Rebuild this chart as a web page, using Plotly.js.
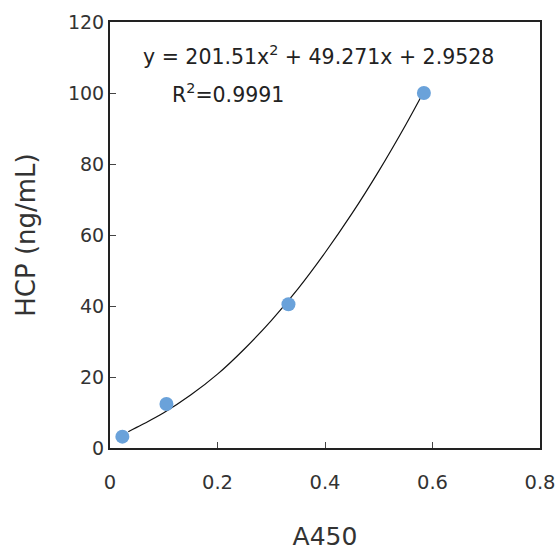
<!DOCTYPE html>
<html><head><meta charset="utf-8">
<script src="https://cdn.plot.ly/plotly-3.0.1.min.js"></script>
<style>html,body{margin:0;padding:0;background:#fff}</style>
</head><body><div id="chart" style="width:558px;height:552px"></div>
<script>
const a450 = [0.023, 0.105, 0.332, 0.584];
const hcp = [3.2, 12.4, 40.5, 100];
const fitX = [0.034, 0.06, 0.10, 0.15, 0.20, 0.25, 0.30, 0.35, 0.40, 0.45, 0.50, 0.55, 0.58];
const fitY = [4.6, 6.6, 9.9, 14.9, 20.8, 27.9, 35.9, 44.9, 55.0, 66.0, 78.0, 91.0, 99.3];
const xTicks = [0, 0.2, 0.4, 0.6, 0.8];
const xTickText = ['0', '0.2', '0.4', '0.6', '0.8'];
const yTicks = [0, 20, 40, 60, 80, 100, 120];
const eqText = 'y = 201.51x<sup>2</sup> + 49.271x + 2.9528';
const r2Text = 'R<sup>2</sup>=0.9991';

const font = 'DejaVu Sans, Verdana, sans-serif';
const traces = [
  {x: fitX, y: fitY, mode: 'lines', line: {color: '#111', width: 1.2, shape: 'spline'}, hoverinfo: 'skip'},
  {x: a450, y: hcp, mode: 'markers', marker: {color: '#6aa2da', size: 14}}
];
const layout = {
  width: 558, height: 552,
  margin: {l: 110, r: 18, t: 22, b: 104},
  showlegend: false,
  paper_bgcolor: '#fff', plot_bgcolor: '#fff',
  font: {family: font, color: '#333', size: 19},
  xaxis: {
    range: [0, 0.8], tickvals: xTicks, ticktext: xTickText,
    showgrid: false, zeroline: false,
    showline: true, linecolor: '#222', linewidth: 2, mirror: true,
    ticks: 'inside', ticklen: 6, tickcolor: '#444', tickwidth: 1,
    ticklabelstandoff: 16,
    tickfont: {size: 19.5, color: '#333', family: font},
    title: {text: 'A450', font: {size: 25, color: '#333', family: font}, standoff: 34}
  },
  yaxis: {
    range: [0, 120], tickvals: yTicks,
    showgrid: false, zeroline: false,
    showline: true, linecolor: '#222', linewidth: 2, mirror: true,
    ticks: 'inside', ticklen: 6, tickcolor: '#444', tickwidth: 1,
    tickfont: {size: 19, color: '#333', family: font},
    title: {text: 'HCP (ng/mL)', font: {size: 26, color: '#333', family: font}, standoff: 25}
  },
  annotations: [
    {xref: 'paper', yref: 'paper', x: 0.484, y: 0.921, xanchor: 'center', yanchor: 'middle',
     text: eqText, showarrow: false, font: {size: 20.5, color: '#222', family: font}},
    {xref: 'paper', yref: 'paper', x: 0.14, y: 0.831, xanchor: 'left', yanchor: 'middle',
     text: r2Text, showarrow: false, font: {size: 20.5, color: '#222', family: font}}
  ]
};
Plotly.newPlot('chart', traces, layout, {staticPlot: true, displayModeBar: false});
</script></body></html>
